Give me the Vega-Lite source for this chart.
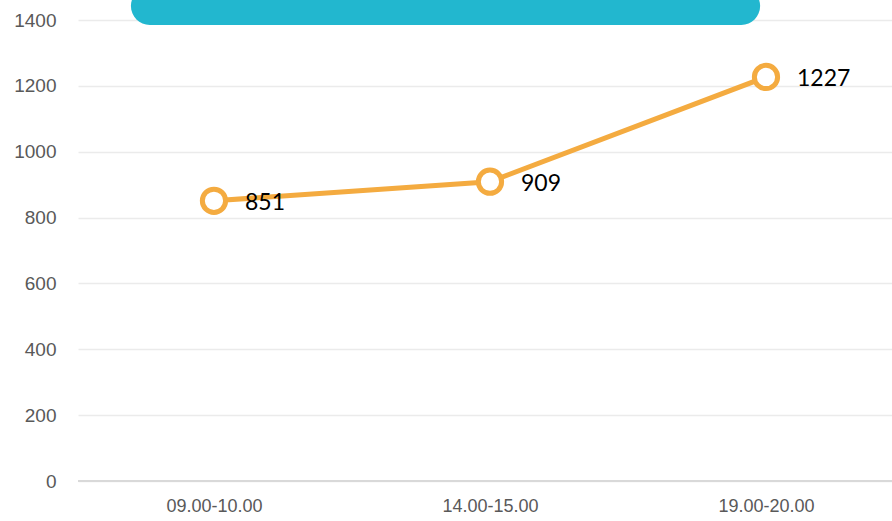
{
  "$schema": "https://vega.github.io/schema/vega-lite/v6.json",
  "autosize": "none",
  "width": 814,
  "height": 461,
  "padding": {"left": 78, "top": 20, "right": 0, "bottom": 40},
  "background": "white",
  "config": {"view": {"stroke": null}},
  "datasets": {
    "main": [
      {"time": "09.00-10.00", "value": 851},
      {"time": "14.00-15.00", "value": 909},
      {"time": "19.00-20.00", "value": 1227}
    ],
    "banner": [{"start": 0.065, "end": 0.838, "low": 1385, "high": 1500}]
  },
  "resolve": {"scale": {"x": "independent"}},
  "layer": [
    {
      "data": {"name": "main"},
      "layer": [
        {
          "mark": {"type": "line", "color": "#F4AB40", "strokeWidth": 5},
          "encoding": {
            "x": {
              "field": "time", "type": "ordinal",
              "scale": {"type": "point", "padding": 0.4746, "align": 0.519},
              "axis": {"title": null, "domain": false, "ticks": false, "labelFont": "Liberation Sans", "labelFontSize": 18, "labelColor": "#595959", "labelPadding": 16, "labelAngle": 0}
            },
            "y": {
              "field": "value", "type": "quantitative",
              "scale": {"domain": [0, 1400], "nice": false},
              "axis": {"title": null, "format": "d", "grid": true, "values": [0, 200, 400, 600, 800, 1000, 1200, 1400], "domain": false, "ticks": false, "gridColor": "#EBEBEB", "gridWidth": 1.5, "labelFont": "Liberation Sans", "labelFontSize": 19, "labelColor": "#595959", "labelPadding": 22}
            }
          }
        },
        {
          "mark": {"type": "point", "shape": "circle", "filled": true, "fill": "white", "stroke": "#F4AB40", "strokeWidth": 5, "size": 540, "opacity": 1},
          "encoding": {
            "x": {"field": "time", "type": "ordinal"},
            "y": {"field": "value", "type": "quantitative"}
          }
        },
        {
          "mark": {"type": "text", "align": "left", "baseline": "middle", "dx": 31, "dy": 2, "font": "Lato", "fontSize": 23, "color": "black"},
          "encoding": {
            "x": {"field": "time", "type": "ordinal"},
            "y": {"field": "value", "type": "quantitative"},
            "text": {"field": "value", "type": "quantitative", "format": "d"}
          }
        }
      ]
    },
    {
      "data": {"name": "main"},
      "mark": {"type": "rule", "color": "#D9D9D9", "strokeWidth": 2},
      "encoding": {"y": {"datum": 0, "type": "quantitative"}}
    },
    {
      "data": {"name": "banner"},
      "mark": {"type": "rect", "color": "#22B7CF", "cornerRadius": 26},
      "encoding": {
        "x": {"field": "start", "type": "quantitative", "scale": {"domain": [0, 1]}, "axis": null},
        "x2": {"field": "end"},
        "y": {"field": "low", "type": "quantitative"},
        "y2": {"field": "high"}
      }
    }
  ]
}
